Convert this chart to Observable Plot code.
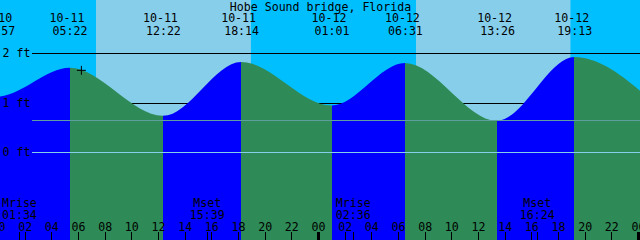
<!DOCTYPE html>
<html>
<head>
<meta charset="utf-8">
<style>
html, body { margin: 0; padding: 0; overflow: hidden; background: #fff; }
#chart svg { display: block; overflow: hidden; }
</style>
<script src="https://cdn.jsdelivr.net/npm/d3@7"></script>
<script src="https://cdn.jsdelivr.net/npm/@observablehq/plot@0.6"></script>
</head>
<body>
<div id="chart"></div>
<script>
// ---- data ----
const title = "Hobe Sound bridge, Florida";
const viewStart = "2024-10-11T00:09";
const viewEnd = "2024-10-13T00:09";

// tide extremes (the first and last lie just outside the window)
const tideTimes = ["2024-10-10T17:25", "2024-10-10T23:57", "2024-10-11T05:22", "2024-10-11T12:22",
  "2024-10-11T18:14", "2024-10-12T01:01", "2024-10-12T06:31", "2024-10-12T13:26",
  "2024-10-12T19:13", "2024-10-13T01:52"];
const tideHeights = [1.78, 1.12, 1.70, 0.73, 1.82, 0.94, 1.80, 0.63, 1.92, 0.82];

const sunrises = ["2024-10-11T07:21", "2024-10-12T07:21"];
const sunsets = ["2024-10-11T18:58", "2024-10-12T18:56"];

const moonTimes = ["2024-10-11T01:34", "2024-10-11T15:39", "2024-10-12T02:36", "2024-10-12T16:24"];
const moonEvents = ["Mrise", "Mset", "Mrise", "Mset"];

const depthTicks = [0, 1, 2];
const depthUnit = "ft";
const datumLevel = 0;
const mslLevel = 0.65;
const nowTime = "2024-10-11T06:13";
const nowLevel = 1.66;
const yDomain = [-1.778, 3.071];

const colors = {
  night: "#00BFFF", day: "#87CEEB", flood: "#0000FF", ebb: "#2E8B57",
  datum: "#87CEEB", msl: "#5F9EA0", fg: "#000000"
};

// ---- build tables ----
const parse = d3.utcParse("%Y-%m-%dT%H:%M");
const t0 = parse(viewStart), t1 = parse(viewEnd);
const tides = tideTimes.map((t, i) => ({time: parse(t), ft: tideHeights[i]}));
const labelledTides = tides.filter(d => d.time >= d3.utcHour.offset(t0, -1) && d.time <= t1);
const sky = [];
const bounds = [t0, ...sunrises.flatMap((r, i) => [parse(r), parse(sunsets[i])]), t1];
for (let i = 0; i < bounds.length - 1; i++) sky.push({start: bounds[i], end: bounds[i + 1], day: i % 2 === 1});
const moon = moonTimes.map((t, i) => ({time: parse(t), kind: moonEvents[i]}));
const hourTicks = d3.utcHour.every(2).range(d3.utcDay.floor(t0), t1);
const isMidnight = d => d.getUTCHours() === 0;
const fmtDate = d3.utcFormat("%m-%d"), fmtTime = d3.utcFormat("%H:%M"), fmtHour = d3.utcFormat("%H");

const plusSymbol = {
  draw(ctx, size) {
    const h = Math.sqrt(size / Math.PI);
    ctx.moveTo(-h, 0); ctx.lineTo(h, 0);
    ctx.moveTo(0, -h); ctx.lineTo(0, h);
  }
};

const FS = 11.6;
const plot = Plot.plot({
  width: 640,
  height: 240,
  margin: 0,
  style: {fontFamily: "'DejaVu Sans Mono', monospace", fontSize: FS + "px", background: colors.night, color: colors.fg},
  x: {type: "utc", domain: [t0, t1], axis: null},
  y: {domain: yDomain, axis: null},
  marks: [
    Plot.rect(sky.filter(d => !d.day), {x1: "start", x2: "end", fill: colors.night}),
    Plot.rect(sky.filter(d => d.day), {x1: "start", x2: "end", fill: colors.day}),
    Plot.ruleY(depthTicks, {y: d => d, insetLeft: 32, stroke: colors.fg, shapeRendering: "crispEdges"}),
    Plot.areaY(tides, {x: "time", y1: yDomain[0], y2: "ft", curve: "monotone-x", fill: "url(#tideFill)", clip: true}),
    Plot.ruleY([mslLevel], {y: d => d, insetLeft: 32, stroke: colors.msl, shapeRendering: "crispEdges"}),
    Plot.ruleY([datumLevel], {y: d => d, insetLeft: 32, stroke: colors.datum, shapeRendering: "crispEdges"}),
    // title and tide event labels
    Plot.text([title], {text: d => d, frameAnchor: "top", lineAnchor: "top", dy: 1.8, fill: colors.fg}),
    Plot.text(labelledTides, {x: "time", text: d => fmtDate(d.time), frameAnchor: "top", lineAnchor: "top", dy: 13, dx: -3, fill: colors.fg}),
    Plot.text(labelledTides, {x: "time", text: d => fmtTime(d.time), frameAnchor: "top", lineAnchor: "top", dy: 25.8, fill: colors.fg}),
    // depth labels
    Plot.text(depthTicks, {y: d => d, text: d => `${d} ${depthUnit}`, frameAnchor: "left", textAnchor: "start", lineAnchor: "middle", dx: 2, fill: colors.fg}),
    // bottom hour ticks
    Plot.ruleX(hourTicks.filter(d => !isMidnight(d)), {x: d => d, insetTop: 232, stroke: colors.fg, shapeRendering: "crispEdges"}),
    Plot.ruleX(hourTicks.filter(isMidnight), {x: d => d, insetTop: 232, stroke: colors.fg, strokeWidth: 3, shapeRendering: "crispEdges"}),
    Plot.text(hourTicks, {x: d => d, text: d => fmtHour(d), frameAnchor: "bottom", lineAnchor: "bottom", dy: -10, fill: colors.fg}),
    // moon events
    Plot.ruleX(moon, {x: "time", insetTop: 232, stroke: colors.fg, shapeRendering: "crispEdges"}),
    Plot.text(moon, {x: "time", text: "kind", frameAnchor: "bottom", lineAnchor: "bottom", dy: -34, fill: colors.fg}),
    Plot.text(moon, {x: "time", text: d => fmtTime(d.time), frameAnchor: "bottom", lineAnchor: "bottom", dy: -21.7, fill: colors.fg}),
    // current time marker
    Plot.dot([{time: parse(nowTime), ft: nowLevel}], {x: "time", y: "ft", symbol: plusSymbol, r: 4.5, stroke: colors.fg, fill: "none", strokeWidth: 1})
  ]
});

// flood / ebb colouring of the water, stops placed by the plot's own x scale
const xs = plot.scale("x");
const ns = "http://www.w3.org/2000/svg";
const defs = document.createElementNS(ns, "defs");
const grad = document.createElementNS(ns, "linearGradient");
grad.setAttribute("id", "tideFill");
grad.setAttribute("gradientUnits", "userSpaceOnUse");
const gx1 = xs.apply(tides[0].time), gx2 = xs.apply(tides[tides.length - 1].time);
grad.setAttribute("x1", gx1); grad.setAttribute("x2", gx2);
grad.setAttribute("y1", 0); grad.setAttribute("y2", 0);
for (let i = 0; i < tides.length - 1; i++) {
  const c = tides[i + 1].ft > tides[i].ft ? colors.flood : colors.ebb;
  for (const t of [tides[i].time, tides[i + 1].time]) {
    const s = document.createElementNS(ns, "stop");
    s.setAttribute("offset", (xs.apply(t) - gx1) / (gx2 - gx1));
    s.setAttribute("stop-color", c);
    grad.appendChild(s);
  }
}
defs.appendChild(grad);
plot.insertBefore(defs, plot.firstChild);
document.getElementById("chart").appendChild(plot);
</script>
</body>
</html>
